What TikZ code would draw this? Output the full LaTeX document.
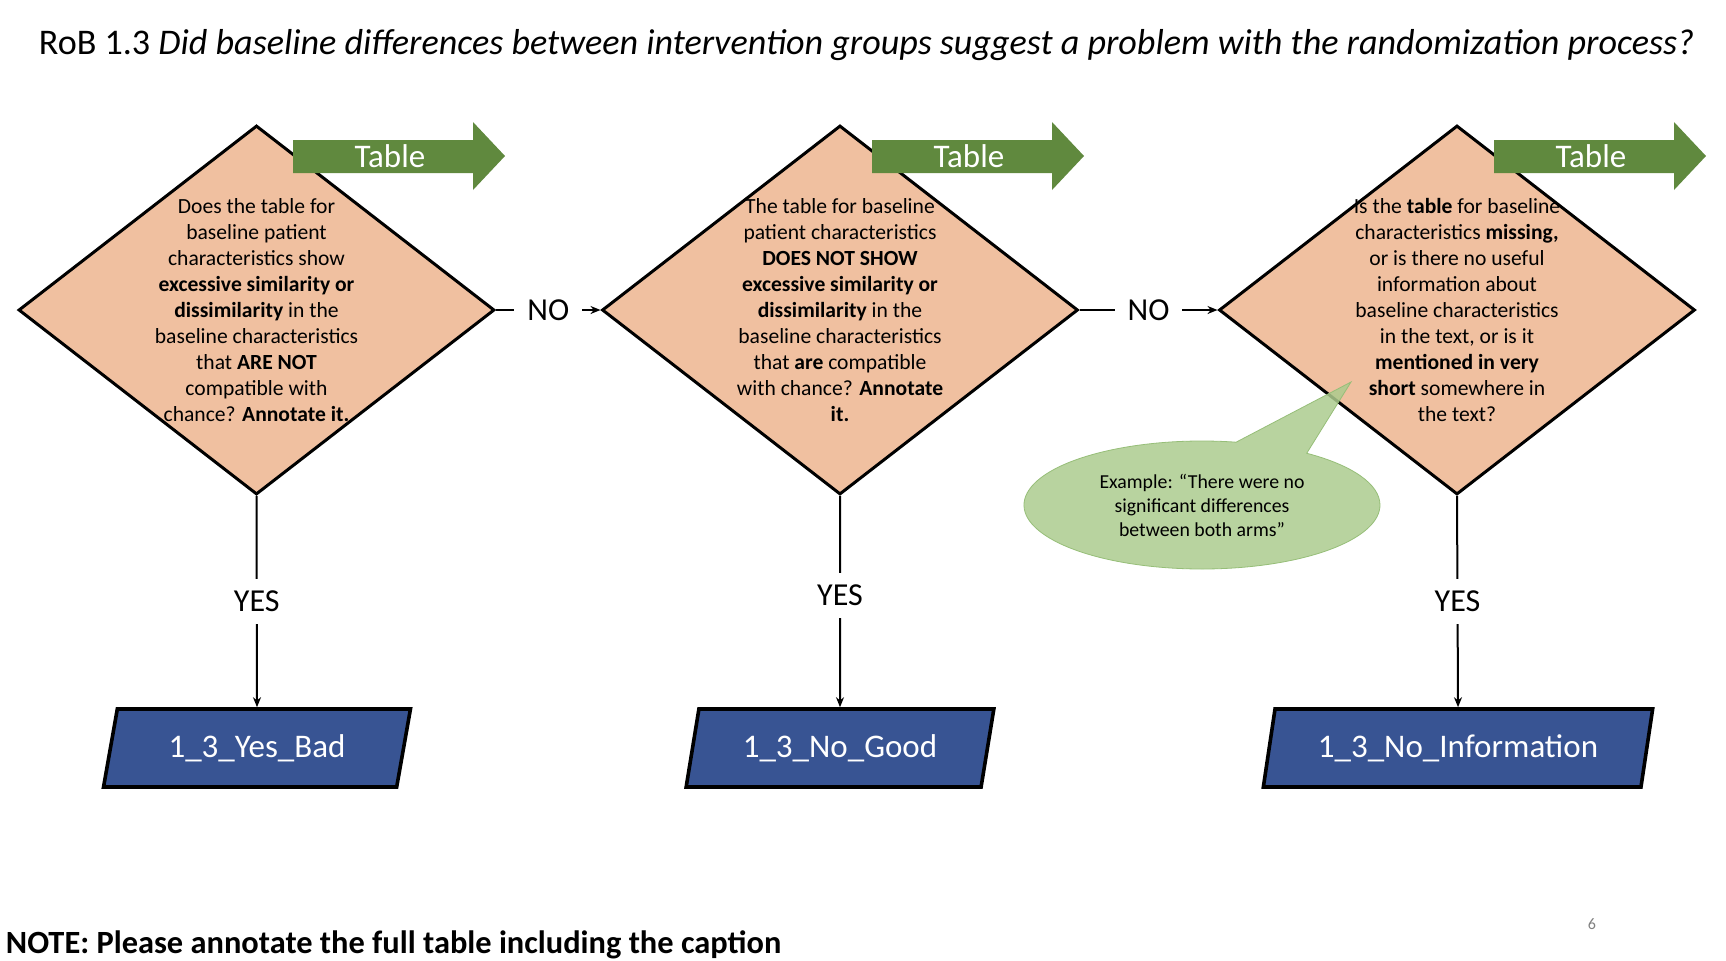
\documentclass[tikz,border=0pt]{standalone}
\usepackage{fontspec}
\setmainfont{Carlito}
\usetikzlibrary{shapes.geometric,shapes.callouts,arrows.meta}
\definecolor{peach}{RGB}{240,192,160}
\definecolor{tgreen}{RGB}{96,137,62}
\definecolor{pblue}{RGB}{56,84,147}
\definecolor{cfill}{RGB}{172,203,142}
\definecolor{cline}{RGB}{150,190,120}
\begin{document}
\begin{tikzpicture}[x=0.5pt,y=-0.5pt,
 dia/.style={diamond, draw=black, line width=1.5pt, fill=peach, minimum width=238pt, minimum height=184.5pt, inner sep=0pt},
 dtext/.style={align=center, font=\fontsize{10.8}{13}\selectfont, inner sep=0pt},
 outbox/.style={trapezium, trapezium left angle=77, trapezium right angle=103, trapezium stretches, draw=black, line width=1.8pt, fill=pblue, text=white, font=\fontsize{16.5}{19}\selectfont, minimum height=39pt},
 conn/.style={line width=1pt, -{Stealth[length=5pt,width=4pt]}},
 lab/.style={fill=white, font=\fontsize{16}{19}\selectfont, inner xsep=6.5pt, inner ysep=6pt},
 tarrow/.style={fill=tgreen},
 ttext/.style={text=white, font=\fontsize{16.5}{19}\selectfont, inner sep=0pt},
]
\useasboundingbox (0,0) rectangle (1726,960);

\node[anchor=west, inner sep=0pt, font=\fontsize{18.05}{21}\selectfont] (title) at (38.5,45.5) {RoB 1.3 \textit{Did baseline differences between intervention groups suggest a problem with the randomization process?}};

\node[dia] (d1) at (256.5,310) {};
\node[dia] (d2) at (840,310) {};
\node[dia] (d3) at (1457,310) {};

\node[dtext] (t1) at (d1.center) {Does the table for\\baseline patient\\characteristics show\\\textbf{excessive similarity or}\\\textbf{dissimilarity} in the\\baseline characteristics\\that \textbf{ARE NOT}\\compatible with\\chance? \textbf{Annotate it.}};
\node[dtext] (t2) at (d2.center) {The table for baseline\\patient characteristics\\\textbf{DOES NOT SHOW}\\\textbf{excessive similarity or}\\\textbf{dissimilarity} in the\\baseline characteristics\\that \textbf{are} compatible\\with chance? \textbf{Annotate}\\\textbf{it.}};
\node[dtext] (t3) at (d3.center) {Is the \textbf{table} for baseline\\characteristics \textbf{missing,}\\or is there no useful\\information about\\baseline characteristics\\in the text, or is it\\\textbf{mentioned in very}\\\textbf{short} somewhere in\\the text?};

\foreach \L/\n in {293/a1, 872/a2, 1494/a3} {
  \fill[tarrow] (\L,140) -- (\L+180,140) -- (\L+180,122) -- (\L+212,156) -- (\L+180,190) -- (\L+180,173) -- (\L,173) -- cycle;
  \node[ttext] (\n) at (\L+97,156) {Table};
}

\node[outbox, minimum width=153.5pt] (p1) at (257,748) {1\_3\_Yes\_Bad};
\node[outbox, minimum width=154pt] (p2) at (840,748) {1\_3\_No\_Good};
\node[outbox, minimum width=195pt] (p3) at (1458,748) {1\_3\_No\_Information};

\draw[conn] (d1.east) -- (d2.west) node[lab, midway] {NO};
\draw[conn] (d2.east) -- (d3.west) node[lab, midway] {NO};
\draw[conn] (d1.south) -- (p1.north) node[lab, midway] {YES};
\draw[conn] (d2.south) -- (p2.north) node[lab, pos=0.47] {YES};
\draw[conn] (d3.south) -- (p3.north) node[lab, midway] {YES};

\node[ellipse callout, draw=cline, fill=cfill, fill opacity=0.85, text opacity=1, minimum width=178pt, minimum height=64pt, callout absolute pointer={(1351,382)}, callout pointer arc=25, align=center, font=\fontsize{9.9}{12}\selectfont] (c) at (1202,505) {Example: “There were no\\significant differences\\between both arms”};

\node[anchor=west, inner sep=0pt, font=\fontsize{16.2}{19}\selectfont\bfseries] (note) at (5.5,944.5) {NOTE: Please annotate the full table including the caption};
\node[text=gray, font=\fontsize{8}{10}\selectfont] (pg) at (1592,924) {6};
\end{tikzpicture}
\end{document}
